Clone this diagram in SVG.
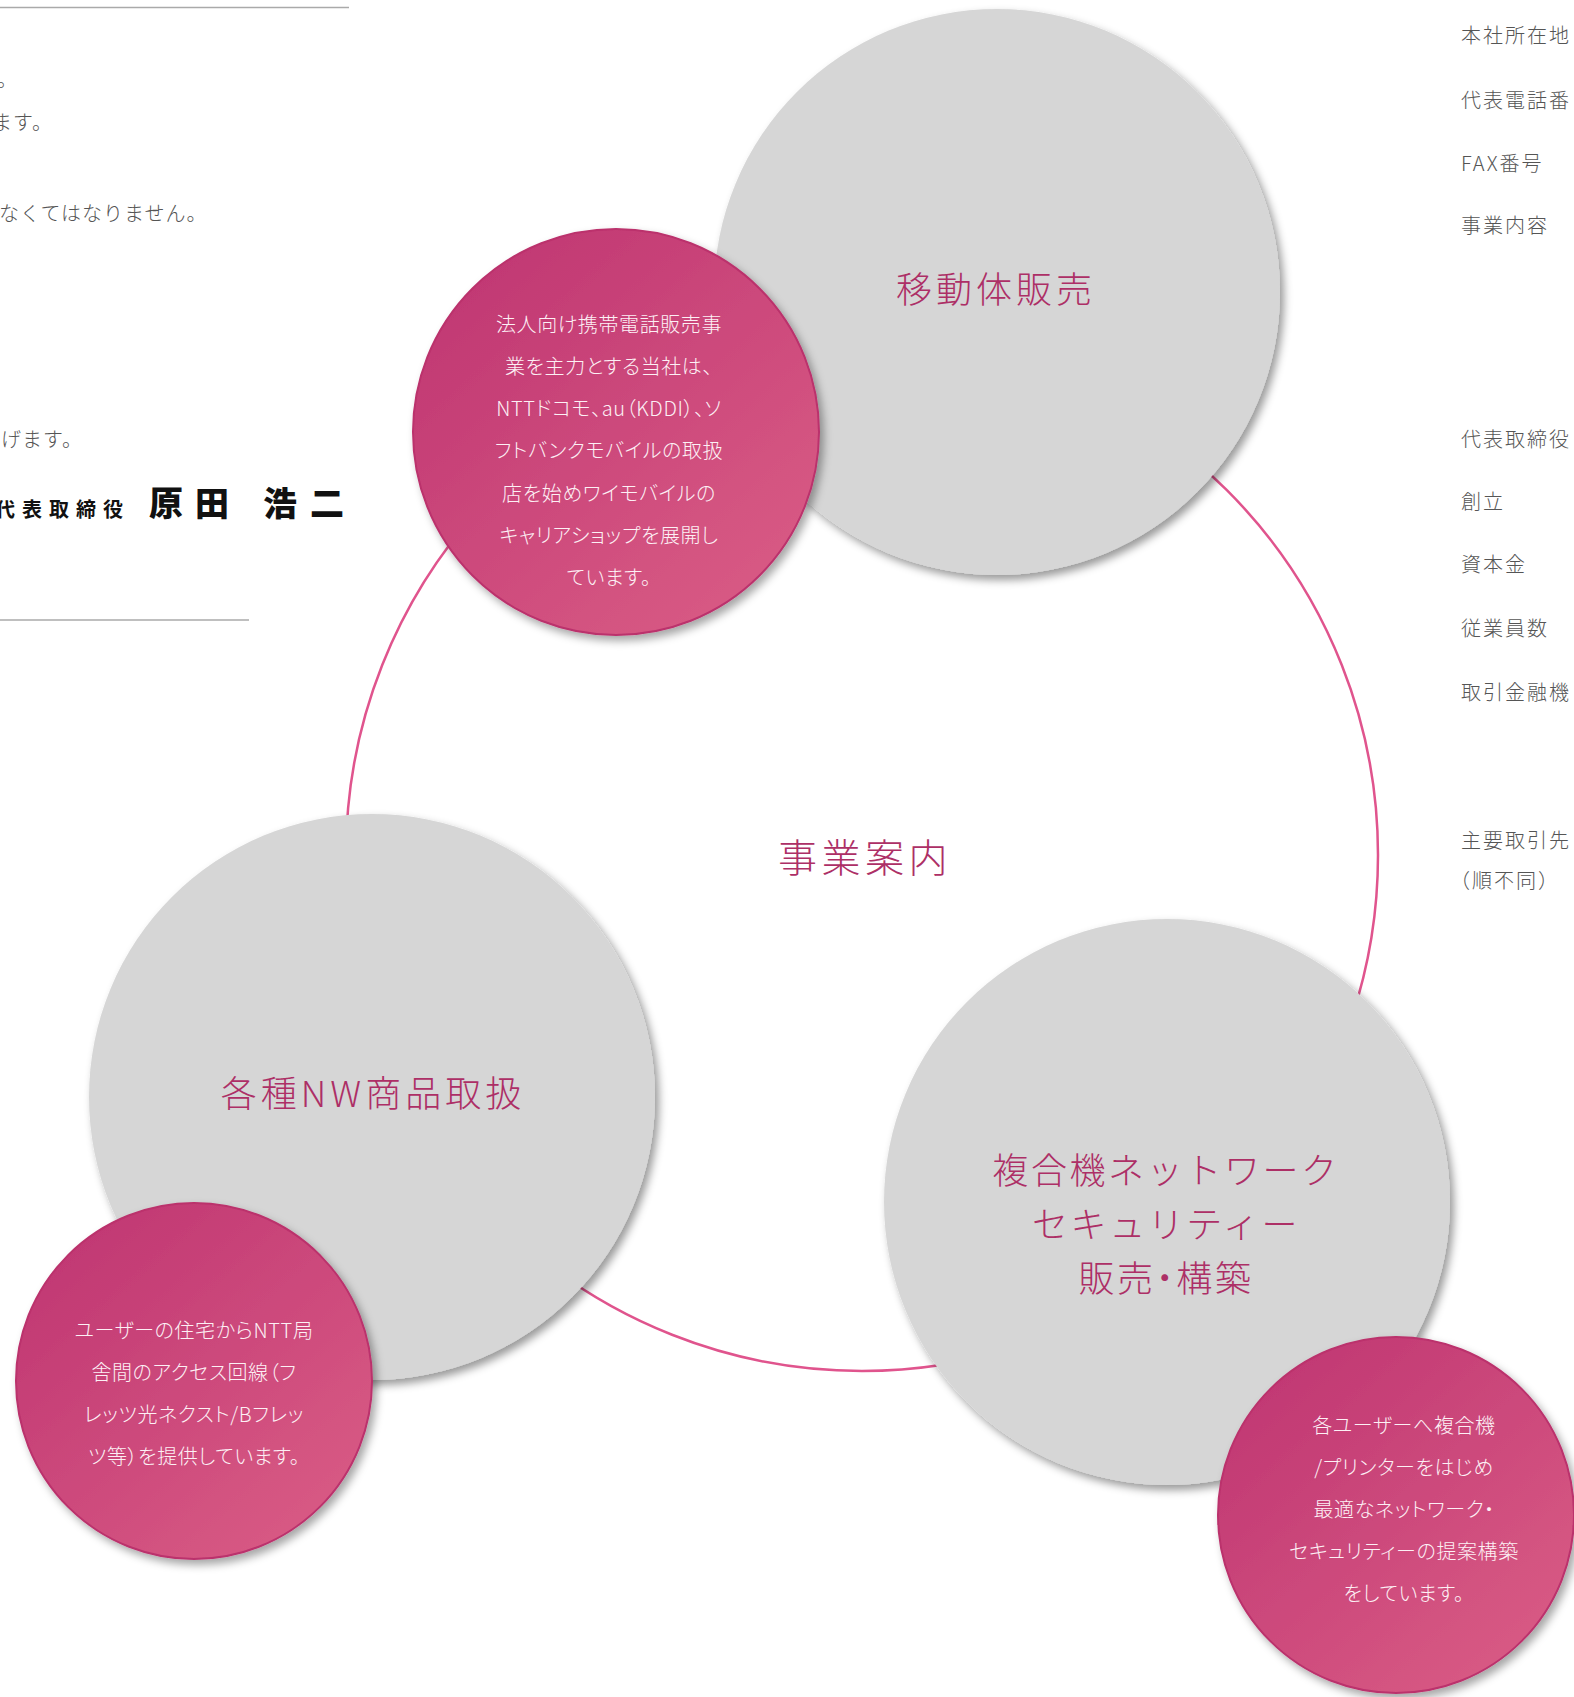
<svg xmlns="http://www.w3.org/2000/svg" width="1574" height="1697" viewBox="0 0 1574 1697">
<style>
.jp{font-family:"Noto Sans CJK JP","Noto Sans",sans-serif;}
.body{font-size:20px;fill:#555;font-weight:300;letter-spacing:1px;}
.label{font-size:20px;fill:#555;font-weight:300;letter-spacing:2px;}
.title{font-size:36px;fill:#ad2f66;letter-spacing:4px;text-anchor:middle;font-weight:300;}
.title2{font-size:36px;fill:#ad2f66;letter-spacing:2.6px;text-anchor:middle;font-weight:300;}
.center{font-size:39px;fill:#ad2f66;letter-spacing:4.5px;text-anchor:middle;font-weight:300;}
.desc{font-size:20px;fill:#fdf0f5;text-anchor:middle;font-weight:300;letter-spacing:0.6px;font-feature-settings:"palt";}
.gray{fill:#d6d6d6;filter:url(#sh);}
.pink{fill:url(#pg);stroke:#bb316c;stroke-width:2;filter:url(#sh2);}
.rule{stroke:#aaa;stroke-width:1.5;}
</style>
<defs>
<filter id="sh" x="-10%" y="-10%" width="125%" height="125%">
<feDropShadow dx="4" dy="5" stdDeviation="4" flood-color="#000" flood-opacity="0.4"/>
</filter>
<filter id="sh2" x="-10%" y="-10%" width="125%" height="125%">
<feDropShadow dx="4" dy="5" stdDeviation="4" flood-color="#000" flood-opacity="0.35"/>
</filter>
<linearGradient id="pg" x1="0.15" y1="0.1" x2="0.85" y2="0.9">
<stop offset="0" stop-color="#c13873"/>
<stop offset="1" stop-color="#d85a84"/>
</linearGradient>
</defs>
<rect width="1574" height="1697" fill="#fff"/>

<g id="left-text" class="jp">
<line class="rule" x1="0" y1="7.5" x2="349" y2="7.5"/>
<text class="body" x="-3" y="87">。</text>
<text class="body" x="-8" y="130">ます。</text>
<text class="body" x="-1" y="221">なくてはなりません。</text>
<text class="body" x="1" y="447">げます。</text>
<text x="-5" y="517" font-family="'Noto Sans CJK JP',sans-serif" font-weight="700" font-size="20" letter-spacing="7" fill="#111">代表取締役</text>
<text x="149 195 240 263 310" y="516" font-family="'Noto Sans CJK JP',sans-serif" font-weight="900" font-size="34" fill="#111">原田 浩二</text>
<line class="rule" x1="0" y1="620" x2="249" y2="620"/>
</g>

<g id="right-labels" class="jp">
<text class="label" x="1461" y="43">本社所在地</text>
<text class="label" x="1461" y="108">代表電話番</text>
<text class="label" x="1461" y="171">FAX番号</text>
<text class="label" x="1461" y="233">事業内容</text>
<text class="label" x="1461" y="447">代表取締役</text>
<text class="label" x="1461" y="509">創立</text>
<text class="label" x="1461" y="572">資本金</text>
<text class="label" x="1461" y="636">従業員数</text>
<text class="label" x="1461" y="700">取引金融機</text>
<text class="label" x="1461" y="848">主要取引先</text>
<text class="label" x="1450" y="888">（順不同）</text>
</g>

<g id="connectors">
<circle cx="862" cy="855" r="516" fill="none" stroke="#e0548d" stroke-width="2.5"/>
</g>

<g id="center-label" class="jp">
<text class="center" x="865" y="872">事業案内</text>
</g>

<g id="node-mobile" class="jp">
<circle class="gray" cx="997" cy="292" r="283"/>
<text class="title" x="996" y="303">移動体販売</text>
</g>

<g id="node-nw" class="jp">
<circle class="gray" cx="372" cy="1097" r="283"/>
<text class="title" x="373" y="1107" letter-spacing="5">各種NW商品取扱</text>
</g>

<g id="node-mfp" class="jp">
<circle class="gray" cx="1167" cy="1202" r="283"/>
<text class="title2" x="1166" y="1184">複合機ネットワーク</text>
<text class="title2" x="1166" y="1238">セキュリティー</text>
<text class="title2" x="1166" y="1292" style="font-feature-settings:'palt'">販売・構築</text>
</g>

<g id="desc-mobile" class="jp">
<circle class="pink" cx="616" cy="432" r="203"/>
<text class="desc" x="609" y="332">法人向け携帯電話販売事</text>
<text class="desc" x="609" y="374">業を主力とする当社は、</text>
<text class="desc" x="609" y="416">NTTドコモ、au（KDDI）、ソ</text>
<text class="desc" x="609" y="458">フトバンクモバイルの取扱</text>
<text class="desc" x="609" y="501">店を始めワイモバイルの</text>
<text class="desc" x="609" y="543">キャリアショップを展開し</text>
<text class="desc" x="609" y="585">ています。</text>
</g>

<g id="desc-nw" class="jp">
<circle class="pink" cx="194" cy="1381" r="178"/>
<text class="desc" x="194" y="1338">ユーザーの住宅からNTT局</text>
<text class="desc" x="194" y="1380">舎間のアクセス回線（フ</text>
<text class="desc" x="194" y="1422">レッツ光ネクスト/Bフレッ</text>
<text class="desc" x="194" y="1464">ツ等）を提供しています。</text>
</g>

<g id="desc-mfp" class="jp">
<circle class="pink" cx="1396" cy="1515" r="178"/>
<text class="desc" x="1404" y="1433">各ユーザーへ複合機</text>
<text class="desc" x="1404" y="1475">/プリンターをはじめ</text>
<text class="desc" x="1404" y="1517">最適なネットワーク・</text>
<text class="desc" x="1404" y="1559">セキュリティーの提案構築</text>
<text class="desc" x="1404" y="1601">をしています。</text>
</g>
</svg>
